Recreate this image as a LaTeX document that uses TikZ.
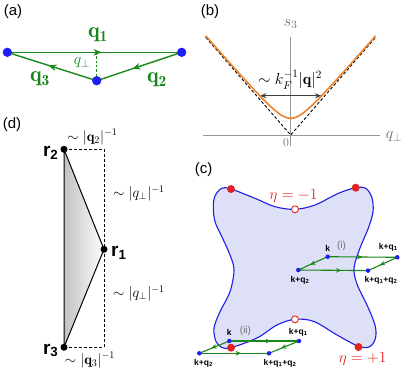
\RequirePackage{fix-cm}
\documentclass[tikz,border=0pt]{standalone}
\usepackage{amsmath}
\usepackage{fontspec}
\setsansfont{Liberation Sans}
\usetikzlibrary{arrows.meta,decorations.markings,calc}
\definecolor{qgreen}{RGB}{25,135,25}
\definecolor{dotblue}{RGB}{30,30,245}
\definecolor{etared}{RGB}{225,35,35}
\definecolor{axgray}{RGB}{150,150,150}
\definecolor{labgray}{RGB}{110,110,110}
\definecolor{curveorange}{RGB}{240,130,40}
\definecolor{blobfill}{RGB}{222,224,248}
\definecolor{blobline}{RGB}{30,30,230}
\tikzset{
  panel/.style={font=\sffamily\fontsize{15}{15}\selectfont, inner sep=0},
  bdot/.style={circle, fill=dotblue, inner sep=0, minimum size=9pt},
  sdot/.style={circle, fill=dotblue, inner sep=0, minimum size=4.5pt},
  kdot/.style={circle, fill=black, inner sep=0, minimum size=7pt},
  rdot/.style={circle, fill=etared, inner sep=0, minimum size=8pt},
  odot/.style={circle, draw=etared, fill=white, inner sep=0, minimum size=7pt, line width=0.9pt},
  midarrow/.style={postaction={decorate}, decoration={markings, mark=at position #1 with {\arrow{Stealth[length=8pt,width=6.5pt]}}}},
  smallarrow/.style={postaction={decorate}, decoration={markings, mark=at position #1 with {\arrow{Stealth[length=5.5pt,width=4.5pt]}}}},
  gline/.style={qgreen, line width=1.4pt},
  gthin/.style={qgreen, line width=1.1pt},
  qlab/.style={qgreen, inner sep=0, font=\fontsize{22}{22}\selectfont},
  mlab/.style={inner sep=0, font=\fontsize{14.5}{14.5}\selectfont},
  rlab/.style={inner sep=0, font=\sffamily\bfseries\fontsize{19}{19}\selectfont},
  klab/.style={inner sep=0, font=\sffamily\bfseries\fontsize{8.5}{9}\selectfont},
  rom/.style={inner sep=0, labgray, font=\sffamily\fontsize{10}{10}\selectfont},
  etalab/.style={inner sep=0, etared, font=\fontsize{15.5}{15.5}\selectfont},
}
\begin{document}
\begin{tikzpicture}[x=1pt,y=-1pt]
\useasboundingbox (0,0) rectangle (405,373);

% ---------------- (a)
\node[panel] (La) at (13,12) {(a)};
\node[bdot] (A1) at (7.3,52.3) {};
\node[bdot] (A2) at (181.7,52.3) {};
\node[bdot] (A3) at (96.7,80.7) {};
\coordinate (A4) at (96.7,52.3);
\draw[gline, midarrow=0.54] (A1.center) -- (A2.center);
\draw[gline, midarrow=0.58] (A2.center) -- (A3.center);
\draw[gline, midarrow=0.54] (A3.center) -- (A1.center);
\draw[qgreen, dashed, line width=1pt, dash pattern=on 2.5pt off 1.8pt] (A3) -- (A4);
\node[bdot] at (A1) {};
\node[bdot] at (A2) {};
\node[bdot] at (A3) {};
\node[qlab] (Lq1) at (98,35) {$\mathbf{q}_{\mathbf{1}}$};
\node[qlab] (Lq2) at (157,80) {$\mathbf{q}_{\mathbf{2}}$};
\node[qlab] (Lq3) at (40,79) {$\mathbf{q}_{\mathbf{3}}$};
\node[qgreen, inner sep=0, font=\fontsize{16}{16}\selectfont] (Lqp) at (82,63) {$q_\perp$};

% ---------------- (b)
\node[panel] (Lb) at (210,12) {(b)};
\coordinate (O) at (290.7,135);
\coordinate (Yt) at (290.7,37);
\coordinate (Yb) at (290.7,146);
\coordinate (Xl) at (203.3,135);
\coordinate (Xr) at (380,135);
\draw[axgray, line width=1pt] (Xl) -- (Xr);
\draw[axgray, line width=1pt] (Yb) -- (Yt);
\coordinate (DL) at (205.7,37.3);
\coordinate (DR) at (375.7,37.3);
\draw[densely dashed, line width=0.9pt] (DL) -- (O) -- (DR);
\draw[curveorange, line width=1.6pt] plot[domain=-85:85, samples=121] ({290.7+\x},{135-sqrt(16.7*16.7+1.3225*\x*\x)});
\coordinate (HL) at (260.3,95.7);
\coordinate (HR) at (321.1,95.7);
\draw[{Stealth[length=6pt,width=5pt]}-{Stealth[length=6pt,width=5pt]}, line width=0.8pt, black!75] (HL) -- (HR);
\node[mlab, font=\fontsize{16}{16}\selectfont] (Lk) at (290,80) {$\sim k_F^{-1}|\mathbf{q}|^2$};
\node[mlab, labgray, font=\fontsize{16}{16}\selectfont] (Ls) at (290.7,24) {$s_3$};
\node[mlab, labgray, font=\fontsize{16}{16}\selectfont] (Lqx) at (394,137) {$q_\perp$};
\node[mlab, labgray, font=\fontsize{12}{12}\selectfont] (L0) at (286,143) {$0$};

% ---------------- (d)
\node[panel] (Ld) at (12,125) {(d)};
\coordinate (R2) at (64,149.3);
\coordinate (R1) at (104,249.3);
\coordinate (R3) at (64,347.3);
\coordinate (C1) at (104,149.3);
\coordinate (C2) at (104,347.3);
\shade[left color=black!24, right color=white] (R2) -- (R1) -- (R3) -- cycle;
\draw[densely dashed, line width=1pt] (R2) -- (C1) -- (C2) -- (R3);
\draw[line width=1pt, line join=round] (R2) -- (R1) -- (R3) -- cycle;
\node[kdot] (D2) at (R2) {};
\node[kdot] (D1) at (R1) {};
\node[kdot] (D3) at (R3) {};
\node[rlab, anchor=base east] (Lr2) at (58.5,156.5) {r\textsubscript{2}};
\node[rlab, anchor=base west] (Lr1) at (111,256.5) {r\textsubscript{1}};
\node[rlab, anchor=base east] (Lr3) at (58.5,354) {r\textsubscript{3}};
\node[mlab] (Ld2) at (92.5,137) {$\sim|\mathbf{q}_2|^{-1}$};
\node[mlab] (Ld1a) at (139,193.3) {$\sim|q_\perp|^{-1}$};
\node[mlab] (Ld1b) at (139,293.3) {$\sim|q_\perp|^{-1}$};
\node[mlab] (Ld3) at (90,360) {$\sim|\mathbf{q}_3|^{-1}$};

% ---------------- (c)
\node[panel] (Lc) at (203.5,170) {(c)};
\draw[blobline, fill=blobfill, line width=1.1pt] plot[smooth cycle, tension=0.55] coordinates {
 (295,209.3) (315,205) (338,193.5) (355.7,187.7) (366,188.5) (372,198) (373,212)
 (368,229) (360,248) (354,268) (357,284) (367,305) (375,325) (375.5,338)
 (370,346.5) (359,346.5) (337,335) (314,321.5) (295,319.3) (277,325) (257,338)
 (231,347.7) (222,347.5) (216,341.5) (214,328) (220,311.7) (230,291.7) (234,270)
 (230,255) (222,237) (215,221.7) (213.3,206.7) (215,196) (221.7,188.3) (231,189)
 (255,198.3) (275,206.7)};
\node[rdot] (E1) at (231,189) {};
\node[rdot] (E2) at (355.7,187.7) {};
\node[rdot] (E4) at (358.5,347) {};
\node[odot] (O1) at (295,209.3) {};
\node[odot] (O2) at (295,319.3) {};
\node[etalab] (Leta1) at (293.5,196) {$\eta=-1$};
\node[etalab] (Leta2) at (362.5,359) {$\eta=+1$};

% (i)
\coordinate (Ka) at (327.7,256.7);
\coordinate (Kb) at (397.3,257.3);
\coordinate (Kc) at (368,270.6);
\coordinate (Kd) at (298.3,270);
\draw[gthin, smallarrow=0.5] (Ka) -- (Kb);
\draw[gthin, smallarrow=0.6] (Kb) -- (Kc);
\draw[gthin, smallarrow=0.6] (Ka) -- (Kd);
\draw[gthin, smallarrow=0.62] (Kd) -- (Kc);
\node[sdot] (Pa) at (Ka) {};
\node[sdot] (Pb) at (Kb) {};
\node[sdot] (Pc) at (Kc) {};
\node[sdot] (Pd) at (Kd) {};
\node[klab] (Tk1) at (327.7,248) {k};
\node[rom] (Ti) at (341.5,246) {(i)};
\node[klab] (Tkq1) at (388.3,247.5) {k+q\textsubscript{1}};
\node[klab] (Tkq2) at (300,280.5) {k+q\textsubscript{2}};
\node[klab] (Tkq12) at (381,280.5) {k+q\textsubscript{1}+q\textsubscript{2}};

% (ii)
\coordinate (Ke) at (229.3,341);
\coordinate (Kf) at (299,341);
\coordinate (Kg) at (269,353.3);
\coordinate (Kh) at (199.3,353.3);
\draw[gthin, smallarrow=0.6] (Ke) -- (Kf);
\draw[gthin, smallarrow=0.6] (Kf) -- (Kg);
\draw[gthin, smallarrow=0.6] (Ke) -- (Kh);
\draw[gthin, smallarrow=0.6] (Kh) -- (Kg);
\node[rdot] (E3) at (231,347.7) {};
\node[sdot] (Pe) at (Ke) {};
\node[sdot] (Pf) at (Kf) {};
\node[sdot] (Pg) at (Kg) {};
\node[sdot] (Ph) at (Kh) {};
\node[klab] (Tk2) at (229.3,332.5) {k};
\node[rom] (Tii) at (245.5,330.5) {(ii)};
\node[klab] (Tkq1b) at (298.3,332.5) {k+q\textsubscript{1}};
\node[klab] (Tkq2b) at (203.5,363.5) {k+q\textsubscript{2}};
\node[klab] (Tkq12b) at (280,363.5) {k+q\textsubscript{1}+q\textsubscript{2}};
\end{tikzpicture}
\end{document}
